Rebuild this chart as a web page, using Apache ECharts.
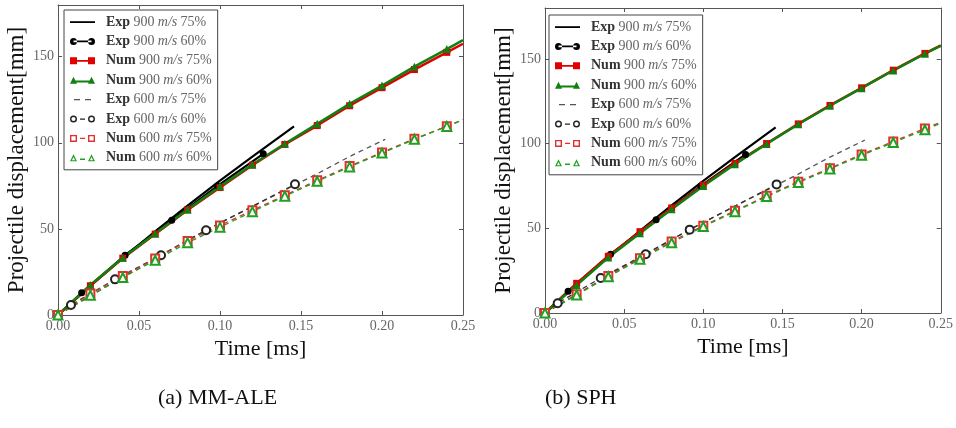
<!DOCTYPE html>
<html>
<head>
<meta charset="utf-8">
<script src="https://cdn.jsdelivr.net/npm/echarts@6/dist/echarts.min.js"></script>
<style>
  html, body { margin: 0; padding: 0; background: #fff; }
  #main { width: 956px; height: 428px; }
</style>
</head>
<body>
<div id="main"></div>
<script>
// shared experimental curves (same in both panels)
var expT900_75 = [0, 0.02, 0.04, 0.06, 0.08, 0.10, 0.12, 0.1457];
var expV900_75 = [0, 17, 33, 48.5, 63.5, 78, 92, 109.5];
var expT900_60 = [0, 0.0146, 0.0414, 0.0702, 0.0985, 0.1267];
var expV900_60 = [0, 12.9, 34.7, 55, 75, 93.6];
var expT600_75 = [0, 0.02, 0.04, 0.06, 0.08, 0.10, 0.12, 0.14, 0.16, 0.18, 0.202];
var expV600_75 = [0, 11, 22, 33, 43.5, 53.5, 63, 72.5, 82, 92, 102];
var expT600_60 = [0, 0.008, 0.0352, 0.0636, 0.0914, 0.1463];
var expV600_60 = [0, 5.8, 20.7, 34.7, 49.2, 75.9];

// numerical curves, sampled every 0.02 ms plus the end of the axis
var numT = [0, 0.02, 0.04, 0.06, 0.08, 0.10, 0.12, 0.14, 0.16, 0.18, 0.20, 0.22, 0.24, 0.25];
// (a) MM-ALE
var aleV900_75 = [0, 17, 33, 47, 61, 74, 87, 99, 110, 121.5, 132, 142.5, 152.5, 157.5];
var aleV900_60 = [0, 17.4, 33.2, 47.3, 61.2, 74.7, 87.4, 99.4, 111, 122.6, 133.2, 144.2, 154.4, 159.6];
var aleV600_75 = [0, 12.5, 22.6, 32.8, 43, 52, 60.8, 69.5, 78.2, 86.5, 94.4, 102.3, 109.6, 113.5];
var aleV600_60 = [0, 11.5, 21.8, 31.8, 42, 51, 60, 69, 77.6, 86, 94, 102, 109.5, 113.2];
// (b) SPH
var sphV900_75 = [0, 17.5, 33.5, 48, 62, 75.5, 88.3, 100, 111.6, 122.5, 132.9, 143.3, 153.2, 157.9];
var sphV900_60 = [0, 16.5, 32.7, 47.1, 61.2, 75, 87.8, 99.8, 111.4, 122.3, 132.7, 143.1, 153, 157.7];
var sphV600_75 = [0, 11, 21.8, 32.3, 42.2, 51.5, 60.3, 69.2, 77.5, 85.5, 93.6, 101.2, 108.9, 112.6];
var sphV600_60 = [0, 10.6, 21.4, 31.7, 41.5, 51, 59.8, 68.7, 77, 85, 93.1, 100.6, 108.1, 112];

var names = ['Exp 900 m/s 75%', 'Exp 900 m/s 60%', 'Num 900 m/s 75%', 'Num 900 m/s 60%',
             'Exp 600 m/s 75%', 'Exp 600 m/s 60%', 'Num 600 m/s 75%', 'Num 600 m/s 60%'];
var xTicks = [0, 0.05, 0.10, 0.15, 0.20, 0.25];
var yTicks = [0, 50, 100, 150];
var captions = ['(a) MM-ALE', '(b) SPH'];

var serif = 'Liberation Serif';

// legend glyphs in matplotlib style: two markers joined by the line
var circ = 'a3.5,3.5 0 1,0 7,0a3.5,3.5 0 1,0 -7,0z';
var hole = 'a2.1,2.1 0 1,1 4.2,0a2.1,2.1 0 1,1 -4.2,0z';
var legendIcons = [
  'path://M0,0h0M0,3.2h25v1.8h-25zM25,8h0',
  'path://M0,4' + circ + 'M18,4' + circ + 'M3.5,3.1h18v1.8h-18z',
  'path://M0,0.5h7v7h-7zM18,0.5h7v7h-7zM7,3.1h11v1.8h-11z',
  'path://M0,7.5L3.5,0.5L7,7.5zM18,7.5L21.5,0.5L25,7.5zM3.5,4.4h18v1.8h-18z',
  'path://M0,0h0M4,3.4h6v1.3h-6zM15,3.4h6v1.3h-6zM25,8h0',
  'path://M0,4' + circ + 'M1.4,4' + hole + 'M18,4' + circ + 'M19.4,4' + hole + 'M10,3.4h5v1.3h-5z',
  'path://M0,0.5h7v7h-7zM1.4,1.9v4.2h4.2v-4.2zM18,0.5h7v7h-7zM19.4,1.9v4.2h4.2v-4.2zM10,3.4h5v1.3h-5z',
  'path://M0,7.5L3.5,0.5L7,7.5zM1.9,6.5L5.1,6.5L3.5,3.2zM18,7.5L21.5,0.5L25,7.5zM19.9,6.5L23.1,6.5L21.5,3.2zM10,4.8h5v1.3h-5z'
];

function zip(t, v) {
  return t.map(function (x, i) { return [x, v[i]]; });
}
// numerical curves: markers only on the 0.02 grid, not at the axis end
function zipNum(t, v) {
  return t.map(function (x, i) {
    var p = { value: [x, v[i]] };
    if (x > 0.245) p.symbol = 'none';
    return p;
  });
}

function seriesFor(idx, v900_75, v900_60, v600_75, v600_60) {
  var base = { type: 'line', xAxisIndex: idx * 2, yAxisIndex: idx * 2, animation: false, smooth: false };
  return [
    Object.assign({}, base, { name: names[0], data: zip(expT900_75, expV900_75), symbol: 'none',
      lineStyle: { color: '#000', width: 2.2 }, itemStyle: { color: '#000' } }),
    Object.assign({}, base, { name: names[1], data: zip(expT900_60, expV900_60), symbol: 'circle', symbolSize: 7,
      lineStyle: { color: '#000', width: 2.2 }, itemStyle: { color: '#000' } }),
    Object.assign({}, base, { name: names[2], data: zipNum(numT, v900_75), symbol: 'rect', symbolSize: 7,
      lineStyle: { color: '#e00000', width: 2.5 }, itemStyle: { color: '#e00000' } }),
    Object.assign({}, base, { name: names[3], data: zipNum(numT, v900_60), symbol: 'triangle', symbolSize: 8,
      lineStyle: { color: '#108010', width: 2.5 }, itemStyle: { color: '#108010' } }),
    Object.assign({}, base, { name: names[4], data: zip(expT600_75, expV600_75), symbol: 'none',
      lineStyle: { color: '#555', width: 1.3, type: [5, 4] }, itemStyle: { color: '#555' } }),
    Object.assign({}, base, { name: names[5], data: zip(expT600_60, expV600_60), symbol: 'emptyCircle', symbolSize: 8,
      lineStyle: { color: '#333', width: 1.3, type: [5, 4] }, itemStyle: { color: '#222', borderWidth: 1.4 } }),
    Object.assign({}, base, { name: names[6], data: zipNum(numT, v600_75), symbol: 'emptyRect', symbolSize: 8,
      lineStyle: { color: '#e03030', width: 1.3, type: [5, 4] }, itemStyle: { color: '#e03030', borderWidth: 1.4 } }),
    Object.assign({}, base, { name: names[7], data: zipNum(numT, v600_60), symbol: 'emptyTriangle', symbolSize: 9,
      lineStyle: { color: '#20a020', width: 1.3, type: [5, 4] }, itemStyle: { color: '#20a020', borderWidth: 1.4 } })
  ];
}

function axesFor(idx) {
  var lineStyle = { color: '#555', width: 1 };
  var tick = { show: true, inside: true, length: 4, lineStyle: lineStyle };
  var lbl = { fontFamily: serif, fontSize: 14, color: '#666' };
  var xs = [
    { type: 'value', gridIndex: idx, position: 'bottom', min: 0, max: 0.25, interval: 0.05,
      axisLine: { show: true, lineStyle: lineStyle }, axisTick: tick, splitLine: { show: false },
      axisLabel: Object.assign({ margin: 4, formatter: function (v) { return v.toFixed(2); } }, lbl),
      name: 'Time [ms]', nameLocation: 'middle', nameGap: 19,
      nameTextStyle: { fontFamily: serif, fontSize: 22, color: '#111' } },
    { type: 'value', gridIndex: idx, position: 'top', min: 0, max: 0.25, interval: 0.05,
      axisLine: { show: true, onZero: false, lineStyle: lineStyle }, axisTick: tick,
      axisLabel: { show: false }, splitLine: { show: false } }
  ];
  var ys = [
    { type: 'value', gridIndex: idx, position: 'left', min: 0, max: 180,
      axisLine: { show: true, lineStyle: lineStyle },
      axisTick: Object.assign({ customValues: yTicks }, tick), splitLine: { show: false },
      axisLabel: Object.assign({ margin: 4, customValues: yTicks }, lbl),
      name: 'Projectile displacement[mm]', nameLocation: 'middle', nameGap: 30,
      nameTextStyle: { fontFamily: serif, fontSize: 23, color: '#111' } },
    { type: 'value', gridIndex: idx, position: 'right', min: 0, max: 180,
      axisLine: { show: true, onZero: false, lineStyle: lineStyle },
      axisTick: Object.assign({ customValues: yTicks }, tick),
      axisLabel: { show: false }, splitLine: { show: false } }
  ];
  return { xs: xs, ys: ys };
}

function legendFor(left, top) {
  return {
    orient: 'vertical', left: left, top: top,
    data: names.map(function (n, i) {
      return { name: n, icon: legendIcons[i], itemStyle: { borderWidth: 0 } };
    }),
    itemWidth: 25, itemHeight: 8, itemGap: 5.4, selectedMode: false,
    padding: [5, 6, 5, 6], borderColor: '#444', borderWidth: 1, backgroundColor: '#fff',
    formatter: function (name) {
      var p = name.split(' ');
      return '{b|' + p[0] + '} {n|' + p[1] + '} {i|' + p[2] + '} {n|' + p[3] + '}';
    },
    textStyle: {
      rich: {
        b: { fontFamily: serif, fontSize: 14, fontWeight: 'bold', color: '#333', lineHeight: 15, padding: [0, 0, 0, 6] },
        n: { fontFamily: serif, fontSize: 14, color: '#666', lineHeight: 15 },
        i: { fontFamily: serif, fontSize: 14, fontStyle: 'italic', color: '#666', lineHeight: 15 }
      }
    }
  };
}

var a0 = axesFor(0), a1 = axesFor(1);
var chart = echarts.init(document.getElementById('main'), null, { renderer: 'canvas' });
var option = {
  backgroundColor: '#fff',
  animation: false,
  title: [
    { text: captions[0], left: 153, top: 382, textStyle: { fontFamily: serif, fontSize: 22, fontWeight: 'normal', color: '#111' } },
    { text: captions[1], left: 540, top: 382, textStyle: { fontFamily: serif, fontSize: 22, fontWeight: 'normal', color: '#111' } }
  ],
  grid: [
    { left: 58, top: 5, width: 405, height: 310 },
    { left: 545, top: 8, width: 398, height: 305 }
  ],
  xAxis: a0.xs.concat(a1.xs),
  yAxis: a0.ys.concat(a1.ys),
  legend: [legendFor(64, 10), legendFor(549, 15)],
  series: seriesFor(0, aleV900_75, aleV900_60, aleV600_75, aleV600_60)
    .concat(seriesFor(1, sphV900_75, sphV900_60, sphV600_75, sphV600_60))
};
chart.setOption(option);
window.addEventListener('resize', function () { chart.resize(); });
</script>
</body>
</html>
